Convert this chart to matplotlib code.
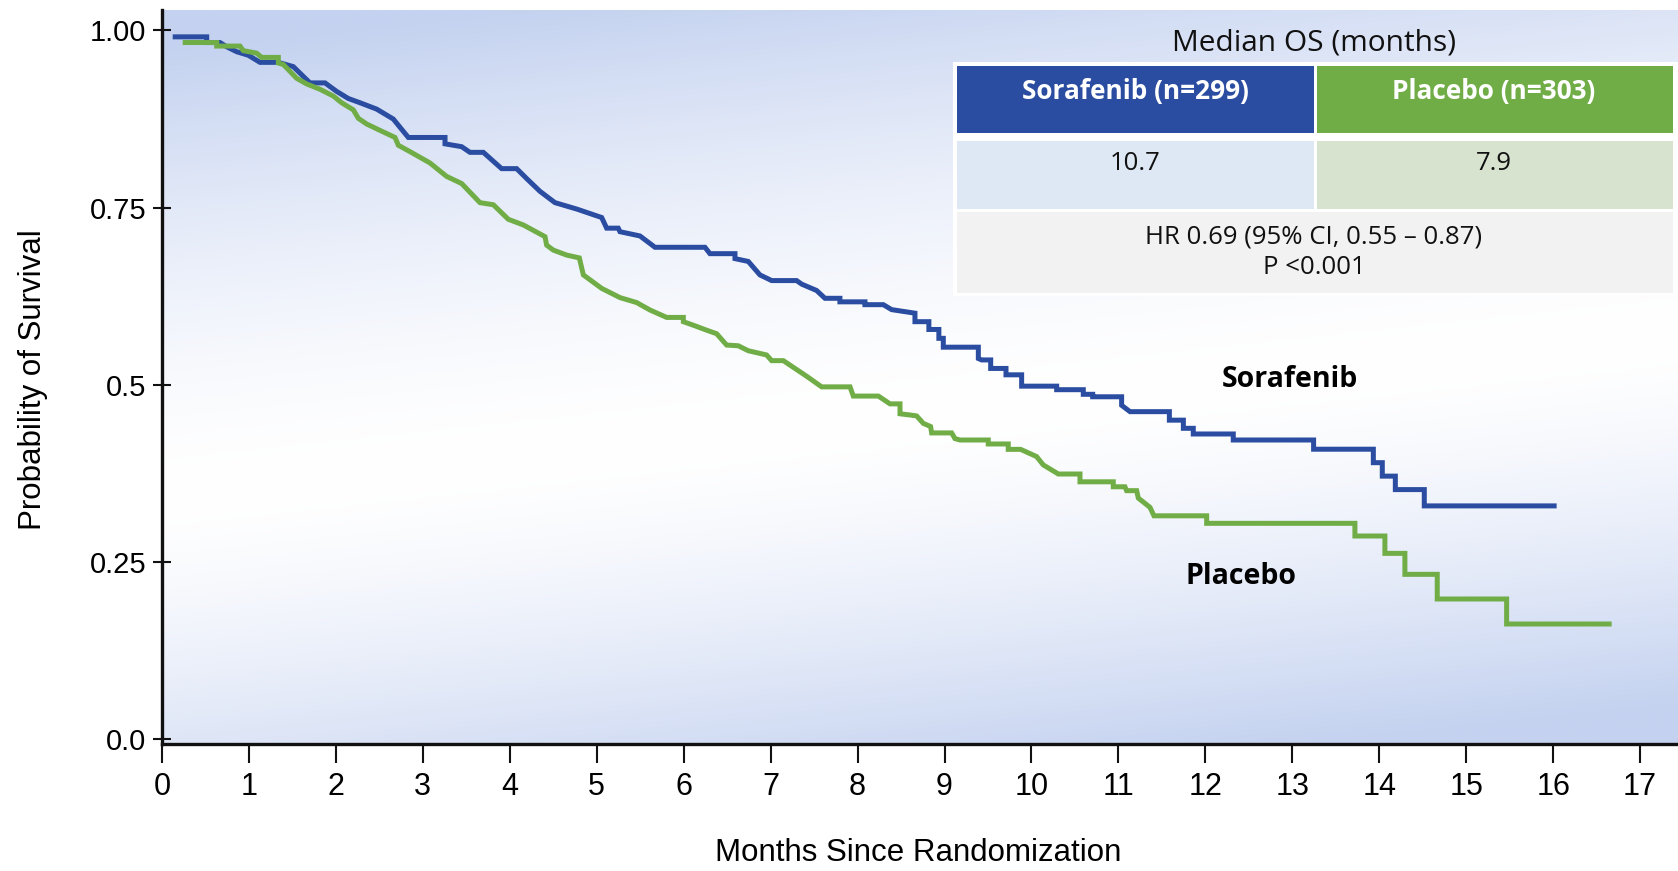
import numpy as np
import matplotlib
matplotlib.use("Agg")
import matplotlib.pyplot as plt
from matplotlib.patches import Rectangle

# ---------------- data ----------------
sorafenib_months = [0.123, 0.514, 0.514, 0.667, 0.744, 0.859, 0.993, 1.127, 1.338, 1.510,
                    1.702, 1.875, 2.009, 2.143, 2.277, 2.469, 2.660, 2.833, 3.255, 3.255,
                    3.446, 3.542, 3.696, 3.906, 4.079, 4.194, 4.347, 4.520, 4.769, 5.057,
                    5.114, 5.248, 5.267, 5.497, 5.670, 6.245, 6.302, 6.590, 6.590, 6.743,
                    6.877, 7.012, 7.299, 7.357, 7.529, 7.625, 7.797, 7.797, 8.085, 8.085,
                    8.296, 8.392, 8.660, 8.660, 8.820, 8.820, 8.935, 8.935, 8.986, 8.986,
                    9.389, 9.389, 9.427, 9.531, 9.531, 9.707, 9.707, 9.887, 9.887, 10.290,
                    10.290, 10.596, 10.596, 10.704, 10.704, 11.037, 11.037, 11.133, 11.586, 11.586,
                    11.747, 11.747, 11.861, 11.861, 12.321, 12.321, 13.245, 13.245, 13.932, 13.932,
                    14.035, 14.035, 14.185, 14.185, 14.518, 14.518, 16.040]
sorafenib_surv = [0.991, 0.991, 0.983, 0.983, 0.977, 0.970, 0.965, 0.955, 0.955, 0.949,
                  0.926, 0.926, 0.914, 0.904, 0.898, 0.889, 0.875, 0.849, 0.849, 0.840,
                  0.836, 0.828, 0.828, 0.805, 0.805, 0.791, 0.773, 0.757, 0.748, 0.736,
                  0.721, 0.721, 0.716, 0.710, 0.694, 0.694, 0.685, 0.685, 0.678, 0.674,
                  0.655, 0.647, 0.647, 0.642, 0.633, 0.622, 0.622, 0.617, 0.617, 0.613,
                  0.613, 0.606, 0.601, 0.589, 0.589, 0.578, 0.578, 0.5655, 0.5655, 0.553,
                  0.553, 0.537, 0.535, 0.535, 0.523, 0.523, 0.514, 0.514, 0.498, 0.498,
                  0.493, 0.493, 0.4865, 0.4865, 0.483, 0.483, 0.471, 0.462, 0.462, 0.450,
                  0.450, 0.4385, 0.4385, 0.4305, 0.4305, 0.422, 0.422, 0.409, 0.409, 0.390,
                  0.390, 0.371, 0.371, 0.352, 0.352, 0.329, 0.329]

placebo_months = [0.238, 0.629, 0.629, 0.897, 0.935, 1.089, 1.146, 1.338, 1.338, 1.395,
                  1.549, 1.664, 1.817, 1.970, 2.066, 2.200, 2.258, 2.354, 2.507, 2.680,
                  2.718, 2.852, 3.082, 3.274, 3.446, 3.657, 3.811, 3.983, 4.156, 4.405,
                  4.424, 4.501, 4.654, 4.800, 4.846, 5.057, 5.267, 5.459, 5.612, 5.804,
                  5.996, 5.996, 6.111, 6.264, 6.379, 6.494, 6.628, 6.743, 6.954, 7.012,
                  7.146, 7.414, 7.587, 7.913, 7.951, 8.239, 8.373, 8.488, 8.488, 8.622,
                  8.679, 8.756, 8.840, 8.852, 9.082, 9.120, 9.178, 9.503, 9.503, 9.733,
                  9.733, 9.875, 10.059, 10.136, 10.309, 10.558, 10.558, 10.941, 10.941, 11.075,
                  11.094, 11.210, 11.229, 11.363, 11.409, 12.015, 12.015, 13.720, 13.720, 14.065,
                  14.065, 14.295, 14.295, 14.667, 14.667, 15.465, 15.465, 16.673]
placebo_surv = [0.983, 0.983, 0.978, 0.978, 0.9715, 0.968, 0.962, 0.962, 0.954, 0.952,
                0.9325, 0.9245, 0.917, 0.9075, 0.898, 0.888, 0.876, 0.868, 0.859, 0.849,
                0.838, 0.829, 0.813, 0.794, 0.784, 0.757, 0.754, 0.7335, 0.7255, 0.709,
                0.697, 0.690, 0.683, 0.679, 0.655, 0.636, 0.623, 0.616, 0.6055, 0.595,
                0.595, 0.589, 0.584, 0.577, 0.572, 0.556, 0.555, 0.548, 0.542, 0.534,
                0.534, 0.512, 0.497, 0.497, 0.484, 0.484, 0.473, 0.473, 0.459, 0.457,
                0.456, 0.4455, 0.441, 0.432, 0.432, 0.424, 0.422, 0.422, 0.4164, 0.4164,
                0.4088, 0.4088, 0.3986, 0.3868, 0.374, 0.374, 0.363, 0.363, 0.356, 0.356,
                0.3505, 0.3505, 0.340, 0.327, 0.315, 0.315, 0.3044, 0.3044, 0.2865, 0.2865,
                0.262, 0.262, 0.2324, 0.2324, 0.1976, 0.1976, 0.1623, 0.1623]

x_ticks = list(range(0, 18))
y_ticks = [0.0, 0.25, 0.5, 0.75, 1.0]
y_tick_labels = ["0.0", "0.25", "0.5", "0.75", "1.00"]
x_label = "Months Since Randomization"
y_label = "Probability of Survival"
curve_labels = ["Sorafenib", "Placebo"]
table_title = "Median OS (months)"
arm_headers = ["Sorafenib (n=299)", "Placebo (n=303)"]
median_os = ["10.7", "7.9"]
hr_lines = ["HR 0.69 (95% CI, 0.55 \u2013 0.87)", "P <0.001"]

BLUE = "#2A4DA1"
GREEN = "#70AD47"

# ---------------- figure ----------------
W, H = 1678, 871
fig = plt.figure(figsize=(W / 100, H / 100), dpi=100)
fig.patch.set_facecolor("white")


def fx(px):
    return px / W


def fy(py):
    return 1 - py / H


ax = fig.add_axes([fx(162), fy(744), fx(1678) - fx(162), fy(10) - fy(744)])
XL = (0, 17.436)
YL = (-0.00706, 1.0289)
ax.set_xlim(*XL)
ax.set_ylim(*YL)
ax.patch.set_visible(False)

# background gradient (blue at top-left and bottom-right, smooth tilted white band)
ny, nx = 400, 800
yy, xx = np.mgrid[0:1:ny * 1j, 0:1:nx * 1j]
s = yy - (0.67 - 0.22 * xx)
k_top = np.clip(-s / 0.62, 0, 1) ** 1.6
k_bot = np.clip(s / 0.5, 0, 1) ** 1.4
k = np.where(s < 0, k_top, k_bot)
blue_bg = np.array([196, 210, 240]) / 255.0
img = (1 - k[..., None]) * 1.0 + k[..., None] * blue_bg
ax.imshow(img, extent=[XL[0], XL[1], YL[0], YL[1]], origin="upper",
          aspect="auto", zorder=0, interpolation="bilinear")

# curves
ax.plot(sorafenib_months, sorafenib_surv, color=BLUE, lw=3.6,
        solid_joinstyle="miter", solid_capstyle="butt", zorder=3)
ax.plot(placebo_months, placebo_surv, color=GREEN, lw=3.6,
        solid_joinstyle="miter", solid_capstyle="butt", zorder=3)

# spines / ticks
for sp in ("top", "right"):
    ax.spines[sp].set_visible(False)
for sp in ("left", "bottom"):
    ax.spines[sp].set_linewidth(2.4)
    ax.spines[sp].set_color("#111111")
    ax.spines[sp].set_zorder(4)

ax.set_xticks(x_ticks)
ax.set_xticklabels([str(t) for t in x_ticks], fontfamily="Liberation Sans", fontsize=22)
ax.set_yticks(y_ticks)
ax.set_yticklabels(y_tick_labels, fontfamily="Liberation Sans", fontsize=21)
ax.tick_params(axis="x", direction="out", length=14, width=1.5, pad=6, color="#111111")
ax.tick_params(axis="y", direction="inout", length=13, width=1.5, pad=5, color="#111111")

# axis labels
fig.text(fx(33), fy(380), y_label, rotation=90, ha="center", va="center",
         fontsize=22.5, family="Liberation Sans")
fig.text(fx(918), fy(853), x_label, ha="center", va="center",
         fontsize=22.5, family="Liberation Sans")

# curve labels
fig.text(fx(1290), fy(379), curve_labels[0], ha="center", va="center",
         fontsize=20.5, family="Open Sans", fontweight="bold")
fig.text(fx(1241), fy(577), curve_labels[1], ha="center", va="center",
         fontsize=20.5, family="Open Sans", fontweight="bold")


# ---------------- table ----------------
def rect(x0, y0, x1, y1, color):
    fig.patches.append(Rectangle((fx(x0), fy(y1)), fx(x1) - fx(x0), fy(y0) - fy(y1),
                                 transform=fig.transFigure, facecolor=color,
                                 edgecolor="none", zorder=5))


rect(953, 62, 1678, 296, "white")
rect(956.5, 65.7, 1314, 133.3, BLUE)
rect(1316.5, 65.7, 1673, 133.3, GREEN)
rect(956.5, 141, 1314, 209, "#DEE8F5")
rect(1316.5, 141, 1673, 209, "#D7E3CF")
rect(956.5, 211.7, 1673, 292.7, "#F2F2F2")

tkw = dict(ha="center", va="center", family="Open Sans", zorder=6)
fig.text(fx(1314), fy(43), table_title, fontsize=21.5, color="#111111", **tkw)
fig.text(fx(1135), fy(92), arm_headers[0], fontsize=18.9, fontweight="bold", color="white", **tkw)
fig.text(fx(1494), fy(92), arm_headers[1], fontsize=18.9, fontweight="bold", color="white", **tkw)
fig.text(fx(1135), fy(164), median_os[0], fontsize=18.5, color="#111111", **tkw)
fig.text(fx(1494), fy(164), median_os[1], fontsize=18.5, color="#111111", **tkw)
fig.text(fx(1314), fy(237), hr_lines[0], fontsize=18.5, color="#111111", **tkw)
fig.text(fx(1314), fy(268), hr_lines[1], fontsize=18.5, color="#111111", **tkw)

fig.savefig("out.png", dpi=100)
